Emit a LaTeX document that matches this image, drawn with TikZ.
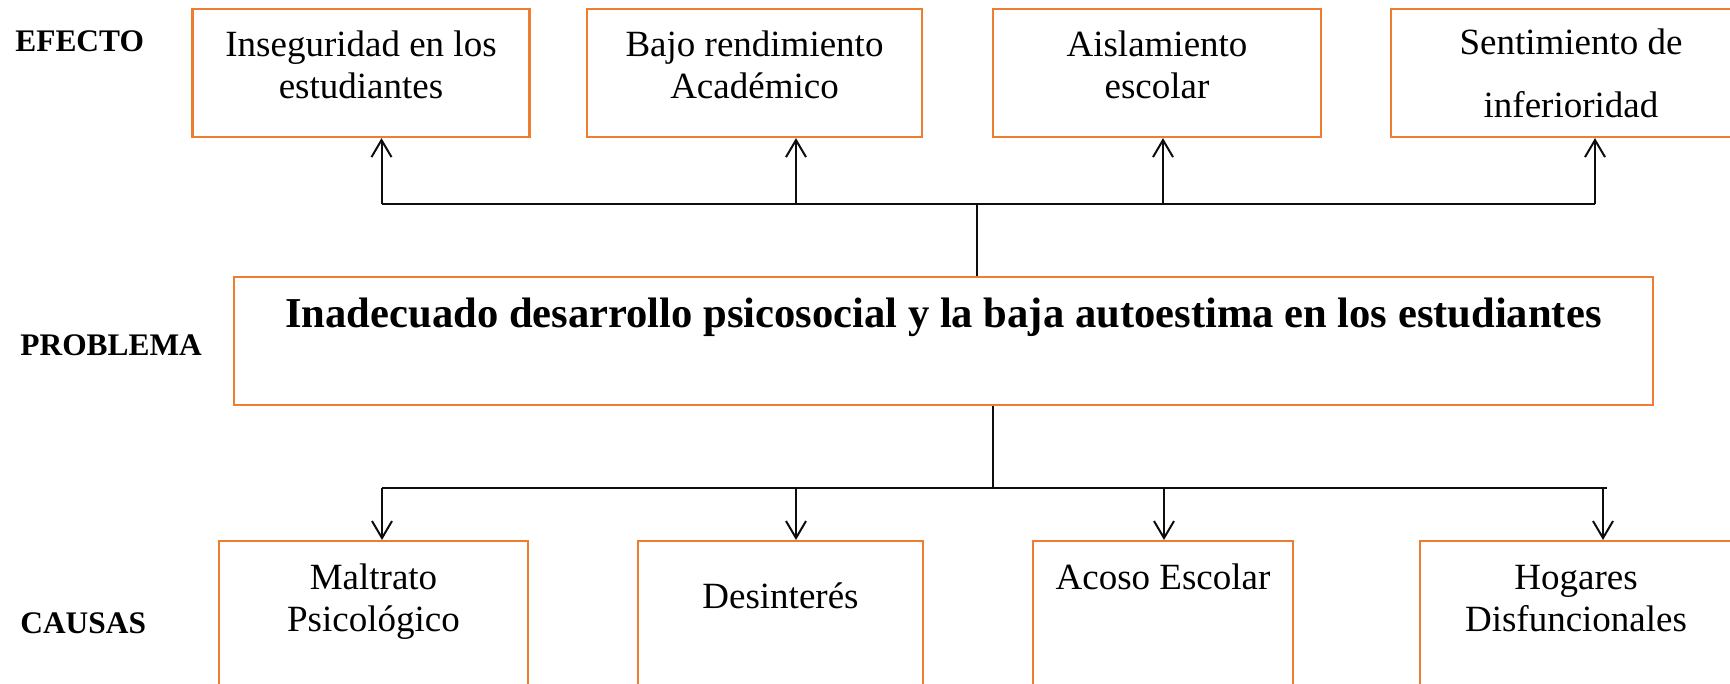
\documentclass[tikz,border=0pt]{standalone}
\usepackage{fontspec}
\setmainfont{Liberation Serif}
\usetikzlibrary{arrows.meta, positioning}
\definecolor{boxOrange}{RGB}{237,125,49}
\definecolor{lineBlack}{gray}{0.05}
\tikzset{
  efectoBox/.style={draw=boxOrange, line width=1.1pt, minimum height=64pt, inner sep=2pt, align=center, font=\fontsize{18.5}{21}\selectfont},
  causaBox/.style={draw=boxOrange, line width=1.1pt, minimum height=110pt, anchor=north},
  problemaBox/.style={draw=boxOrange, line width=1.1pt, minimum width=709.5pt, minimum height=64pt},
  boxText/.style={inner sep=0pt, align=center, font=\fontsize{18.5}{21}\selectfont},
  rowLabel/.style={inner sep=0pt, anchor=base west, font=\fontsize{15.7}{18}\selectfont\bfseries}
}
\begin{document}
\begin{tikzpicture}[x=0.5pt, y=-0.5pt, >={Straight Barb[length=8.5pt,width=10pt]}]
            \clip (0,0) rectangle (1730,684);
            \node[rowLabel] (lEfecto) at (15,52) {EFECTO};
            \node[rowLabel] (lProblema) at (20,356) {PROBLEMA};
            \node[rowLabel] (lCausas) at (20,633) {CAUSAS};
            \node[efectoBox, text depth=8pt, minimum width=168.5pt] (e1) at (361,73) {Inseguridad en los\\estudiantes};
            \node[efectoBox, text depth=8pt, minimum width=167.5pt] (e2) at (754.5,73) {Bajo rendimiento\\Académico};
            \node[efectoBox, text depth=8pt, minimum width=164pt] (e3) at (1157,73) {Aislamiento\\escolar};
            \node[efectoBox, minimum width=180pt] (e4) at (1571,73) {Sentimiento de\\[10.5pt]inferioridad};
            \node[problemaBox] (p) at (943.5,341) {};
            \node[boxText, font=\fontsize{21.3}{25}\selectfont\bfseries, below=11pt of p.north] (pText) {Inadecuado desarrollo psicosocial y la baja autoestima en los estudiantes};
            \node[causaBox, minimum width=154.5pt] (c1) at (373.5,540) {};
            \node[causaBox, minimum width=142.5pt] (c2) at (780.5,540) {};
            \node[causaBox, minimum width=130pt] (c3) at (1163,540) {};
            \node[causaBox, minimum width=156pt] (c4) at (1576,540) {};
            \node[boxText, below=11.5pt of c1.north] (t1) {Maltrato\\Psicológico};
            \node[boxText, below=21pt of c2.north] (t2) {Desinterés};
            \node[boxText, below=11.5pt of c3.north] (t3) {Acoso Escolar};
            \node[boxText, below=12.5pt of c4.north] (t4) {Hogares\\Disfuncionales};
            % effects side
            \coordinate (topJoin) at (977,204);
            \coordinate (u1) at (381.5,204);
            \coordinate (u2) at (796,204);
            \coordinate (u3) at (1163,204);
            \coordinate (u4) at (1595,204);
            \draw[lineBlack, line width=0.6pt] (topJoin) -- (topJoin |- p.north);
            \draw[lineBlack, line width=1pt] (u1) -- (u4);
            \draw[->, lineBlack, line width=1pt] (u1) -- (u1 |- e1.south);
            \draw[->, lineBlack, line width=1pt] (u2) -- (u2 |- e2.south);
            \draw[->, lineBlack, line width=1pt] (u3) -- (u3 |- e3.south);
            \draw[->, lineBlack, line width=1pt] (u4) -- (u4 |- e4.south);
            % causes side
            \coordinate (botJoin) at (993,488);
            \coordinate (d1) at (382,488);
            \coordinate (d2) at (796,488);
            \coordinate (d3) at (1164,488);
            \coordinate (d4) at (1603,488);
            \coordinate (dEnd) at (1607,488);
            \draw[lineBlack, line width=0.6pt] (botJoin |- p.south) -- (botJoin);
            \draw[lineBlack, line width=1pt] (d1) -- (dEnd);
            \draw[->, lineBlack, line width=1pt] (d1) -- (d1 |- c1.north);
            \draw[->, lineBlack, line width=1pt] (d2) -- (d2 |- c2.north);
            \draw[->, lineBlack, line width=1pt] (d3) -- (d3 |- c3.north);
            \draw[->, lineBlack, line width=1pt] (d4) -- (d4 |- c4.north);
\end{tikzpicture}
\end{document}
